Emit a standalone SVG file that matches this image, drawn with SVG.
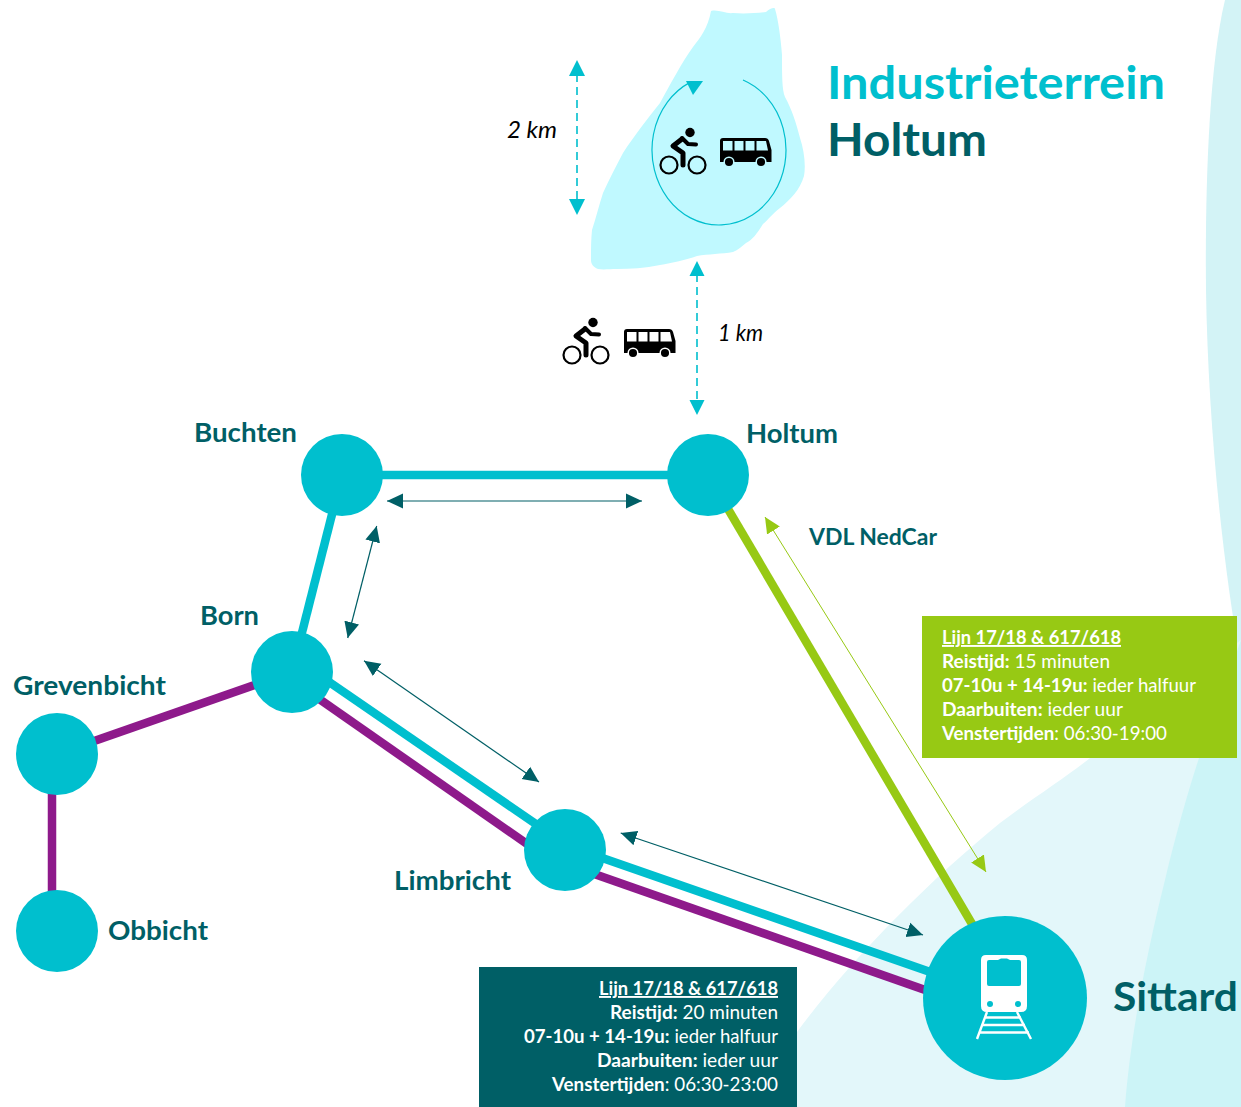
<svg xmlns="http://www.w3.org/2000/svg" xmlns:xlink="http://www.w3.org/1999/xlink" width="1241" height="1107" viewBox="0 0 1241 1107">
<style>
text{font-family:"Lato","Carlito","Open Sans",sans-serif;}
.lbl{font-weight:700;font-size:26px;fill:#005F66;}
.km{font-style:italic;font-size:23px;fill:#000;}
.info{font-size:19px;fill:#fff;}
.info tspan.b{font-weight:700;}
.u{font-weight:700;text-decoration:underline;}
.node{fill:#00BFCE;}
.thick{fill:none;stroke-width:8.5;}
.thin{stroke:#005F66;stroke-width:1.2;fill:none;marker-start:url(#hd);marker-end:url(#hd);}
.dash{stroke:#00BFCE;stroke-width:1.6;stroke-dasharray:8 5;fill:none;}
.tip{fill:#00BFCE;}
</style>
<defs>
<marker id="hd" markerUnits="userSpaceOnUse" markerWidth="16" markerHeight="16" refX="16" refY="8" orient="auto-start-reverse"><path d="M0,0.5 L16,8 L0,15.5 Z" fill="#005F66"/></marker>
<marker id="hg" markerUnits="userSpaceOnUse" markerWidth="16" markerHeight="16" refX="16" refY="8" orient="auto-start-reverse"><path d="M0,0.5 L16,8 L0,15.5 Z" fill="#97C914"/></marker>
<g id="bike">
<circle cx="669" cy="165" r="8.5" fill="none" stroke="#000" stroke-width="2.2"/>
<circle cx="697" cy="165" r="8.5" fill="none" stroke="#000" stroke-width="2.2"/>
<circle cx="690" cy="132.500" r="4.700" fill="#000"/>
<path d="M682,139 L673,146 L683,153 L683,165" fill="none" stroke="#000" stroke-width="5" stroke-linecap="round" stroke-linejoin="round"/>
<path d="M682,138 L688,144 L696,144.500" fill="none" stroke="#000" stroke-width="4" stroke-linecap="round" stroke-linejoin="round"/>
</g>
<g id="bus">
<path fill-rule="evenodd" fill="#000" d="M720,141 Q720,138 723,138 L765,138 Q768,138 769,141 L771.500,150 L771.500,162 L720,162 Z M723,141 V150.500 H732.500 V141 Z M734.500,141 V150.500 H743.500 V141 Z M745.500,141 V150.500 H754.500 V141 Z M756.500,141 V150.500 H768 L766,141 Z"/>
<circle cx="729" cy="162" r="4.800" fill="#000" stroke="currentColor" stroke-width="1.500"/>
<circle cx="761" cy="162" r="4.800" fill="#000" stroke="currentColor" stroke-width="1.500"/>
</g>
</defs>

<g id="background">
<rect width="1241" height="1107" fill="#fff"/>
<path d="M1225,0 C1208,70 1205,200 1206,290 C1208,420 1222,560 1241,665 V0 Z" fill="#D3F3F6"/>
<path d="M770,1107 L797,1032 C850,960 930,880 1000,823 C1040,793 1070,775 1100,750 L1241,640 V1107 Z" fill="#E3F7FA"/>
<path d="M1125,1107 C1130,1040 1145,960 1165,880 C1177,830 1190,785 1200,755 L1241,640 V1107 Z" fill="#CCF4F7"/>
</g>

<g id="connectors">
<path class="thick" stroke="#00BFCE" d="M342,475 H708"/>
<path class="thick" stroke="#00BFCE" d="M342,475 L292,672"/>
<path class="thick" stroke="#00BFCE" d="M300,662 L565,844"/>
<path class="thick" stroke="#00BFCE" d="M565,845 L1005,998"/>
<path class="thick" stroke="#8E1A8B" d="M292,672 L57,754"/>
<path class="thick" stroke="#8E1A8B" d="M52,754 V931"/>
<path class="thick" stroke="#8E1A8B" d="M292,680 L540,853"/>
<path class="thick" stroke="#8E1A8B" d="M560,862 L1005,1018"/>
<path class="thick" stroke="#97C914" d="M708,475 L1005,980"/>
<path class="thin" d="M387,501 H642"/>
<path class="thin" d="M376.700,526 L347.700,638"/>
<path class="thin" d="M364,660.700 L539,782"/>
<path class="thin" d="M620.700,833 L923,935"/>
<path d="M765,517 L986,872" stroke="#97C914" stroke-width="1" fill="none" marker-start="url(#hg)" marker-end="url(#hg)"/>
<path class="dash" d="M577,74 V200"/>
<path class="tip" d="M577,60 L585,76 H569 Z M577,215 L585,199 H569 Z"/>
<path class="dash" d="M697,274 V402"/>
<path class="tip" d="M697,261 L704.500,276 H689.500 Z M697,415 L704.500,400 H689.500 Z"/>
</g>

<g id="terrein">
<path fill="#C0F9FF" d="M711,11 C718,9 726,14 733,13 C745,14 756,13 766,12 C770,8 775,7 775,9 C778,18 781,40 782,55 C782,75 782,90 785,97 C792,110 796,122 800,138 C804,150 806,165 804,176 C800,190 790,200 780,208 C772,214 768,220 763,224 C757,234 752,240 746,243 C742,246 738,250 733,252 C722,254 708,254 697,256 C686,260 672,263 660,265 C645,268 630,269 617,269 C610,269 603,270 598,269 C593,267 591,264 591,260 C591,250 591,240 592,230 C596,218 599,205 603,193 C609,180 616,166 623,153 C634,136 648,118 660,103 C670,85 682,62 693,47 C700,38 708,28 711,11 Z"/>
<path fill="none" stroke="#00BFCE" stroke-width="1.200" d="M743,80 A67,75 0 1 1 690,82.400"/>
<path fill="#00BFCE" d="M686,81 H703 L693,95 Z"/>
<use xlink:href="#bike" href="#bike"/>
<use xlink:href="#bus" href="#bus" color="#C0F9FF"/>
<text x="827" y="99" font-size="45" font-weight="700" fill="#00BFCE" textLength="338" lengthAdjust="spacingAndGlyphs">Industrieterrein</text>
<text x="827" y="156" font-size="45" font-weight="700" fill="#005F66" textLength="160" lengthAdjust="spacingAndGlyphs">Holtum</text>
<text class="km" x="507" y="138" textLength="50" lengthAdjust="spacingAndGlyphs">2 km</text>
<text class="km" x="718" y="341" textLength="45" lengthAdjust="spacingAndGlyphs">1 km</text>
</g>

<g id="access-modes">
<use xlink:href="#bike" href="#bike" x="-97" y="190"/>
<use xlink:href="#bus" href="#bus" x="-96" y="191" color="#fff"/>
</g>

<g id="node-buchten"><circle class="node" cx="342" cy="475" r="41"/><text class="lbl" x="194" y="442" textLength="103" lengthAdjust="spacingAndGlyphs">Buchten</text></g>
<g id="node-holtum"><circle class="node" cx="708" cy="475" r="41"/><text class="lbl" x="746" y="443" textLength="92" lengthAdjust="spacingAndGlyphs">Holtum</text></g>
<g id="node-born"><circle class="node" cx="292" cy="672" r="41"/><text class="lbl" x="200" y="625" textLength="59" lengthAdjust="spacingAndGlyphs">Born</text></g>
<g id="node-grevenbicht"><circle class="node" cx="57" cy="754" r="41"/><text class="lbl" x="13" y="695" textLength="153" lengthAdjust="spacingAndGlyphs">Grevenbicht</text></g>
<g id="node-obbicht"><circle class="node" cx="57" cy="931" r="41"/><text class="lbl" x="108" y="940" textLength="100" lengthAdjust="spacingAndGlyphs">Obbicht</text></g>
<g id="node-limbricht"><circle class="node" cx="565" cy="850" r="41"/><text class="lbl" x="394" y="890" textLength="117" lengthAdjust="spacingAndGlyphs">Limbricht</text></g>
<g id="node-sittard">
<circle class="node" cx="1005" cy="998" r="82"/>
<path fill="#fff" fill-rule="evenodd" d="M986,955 H1022 Q1027,955 1027,960 V1006 Q1027,1012 1021,1012 H987 Q981,1012 981,1006 V960 Q981,955 986,955 Z M989,960 Q987,960 987,962 V984 Q987,986 989,986 H1019 Q1021,986 1021,984 V962 Q1021,960 1019,960 H1010 L1007,958.500 H1001 L998,960 Z"/>
<circle class="node" cx="990" cy="1004" r="3"/><circle class="node" cx="1018" cy="1004" r="3"/>
<path fill="none" stroke="#fff" stroke-width="2.400" d="M987,1012 L977,1039 M1017,1012 L1031,1039 M985,1017.500 H1021 M982,1025 H1025 M979,1032.500 H1029"/>
<text x="1113" y="1011" font-size="40" font-weight="700" fill="#005F66" textLength="125" lengthAdjust="spacingAndGlyphs">Sittard</text>
</g>
<text class="lbl" x="809" y="545" style="font-size:23px" textLength="128" lengthAdjust="spacingAndGlyphs">VDL NedCar</text>

<g id="info-green">
<rect x="922" y="616" width="315" height="142" fill="#97C914"/>
<text class="info u" x="942" y="644" textLength="179" lengthAdjust="spacingAndGlyphs">Lijn 17/18 &amp; 617/618</text>
<text class="info" x="942" y="668" textLength="168" lengthAdjust="spacingAndGlyphs"><tspan class="b">Reistijd:</tspan> 15 minuten</text>
<text class="info" x="942" y="692" textLength="254" lengthAdjust="spacingAndGlyphs"><tspan class="b">07-10u + 14-19u:</tspan> ieder halfuur</text>
<text class="info" x="942" y="716" textLength="181" lengthAdjust="spacingAndGlyphs"><tspan class="b">Daarbuiten:</tspan> ieder uur</text>
<text class="info" x="942" y="740" textLength="225" lengthAdjust="spacingAndGlyphs"><tspan class="b">Venstertijden</tspan>: 06:30-19:00</text>
</g>
<g id="info-teal">
<rect x="479" y="967" width="318" height="140" fill="#005F66"/>
<text class="info u" x="599" y="995" textLength="179" lengthAdjust="spacingAndGlyphs">Lijn 17/18 &amp; 617/618</text>
<text class="info" x="610" y="1019" textLength="168" lengthAdjust="spacingAndGlyphs"><tspan class="b">Reistijd:</tspan> 20 minuten</text>
<text class="info" x="524" y="1043" textLength="254" lengthAdjust="spacingAndGlyphs"><tspan class="b">07-10u + 14-19u:</tspan> ieder halfuur</text>
<text class="info" x="597" y="1067" textLength="181" lengthAdjust="spacingAndGlyphs"><tspan class="b">Daarbuiten:</tspan> ieder uur</text>
<text class="info" x="552" y="1091" textLength="226" lengthAdjust="spacingAndGlyphs"><tspan class="b">Venstertijden</tspan>: 06:30-23:00</text>
</g>
</svg>
